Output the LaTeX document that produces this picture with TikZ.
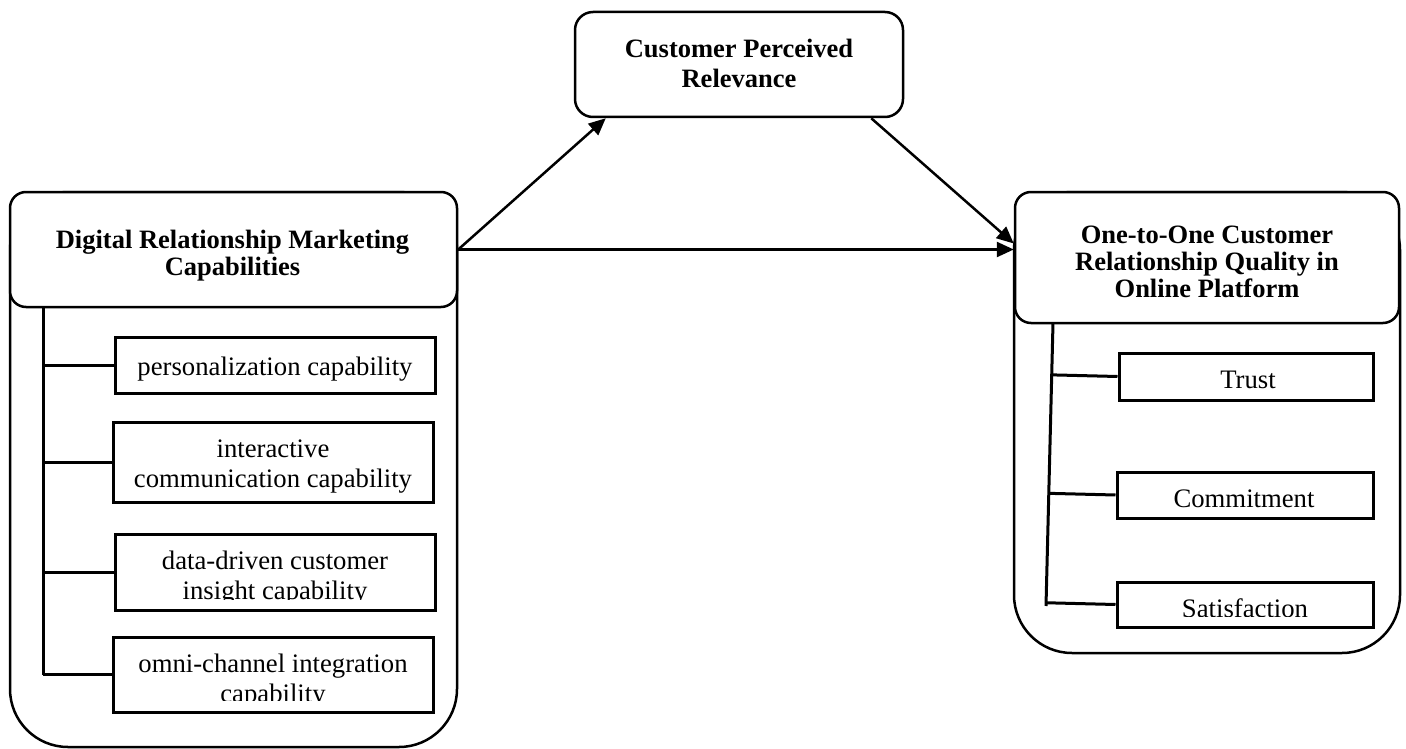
\documentclass[tikz,border=0pt]{standalone}
\usepackage{fontspec}
\setmainfont{Liberation Serif}
\usetikzlibrary{arrows.meta,calc}
\tikzset{
  frame/.style={draw, line width=2.5pt, rounded corners=58pt, inner sep=0pt},
  header/.style={draw, fill=white, line width=2.5pt, rounded corners=16pt, inner sep=0pt},
  itembox/.style={draw, line width=3pt, inner sep=0pt},
  headtext/.style={font=\fontsize{26.5pt}{27pt}\selectfont\bfseries, align=center, inner sep=0pt, anchor=base},
  itemtext/.style={font=\fontsize{26.7pt}{30pt}\selectfont, align=center, inner sep=0pt, anchor=base},
  bus/.style={line width=3pt},
  link/.style={line width=2.5pt, -{Triangle[length=17pt,width=15pt]}},
}
\begin{document}
\begin{tikzpicture}[x=1pt, y=-1pt]
\useasboundingbox (0,0) rectangle (1406,749);

% ---- left construct: frame, header and its four capabilities
% (multi-line text nodes are placed by the baseline of their last line)
\node[frame, minimum width=447pt, minimum height=555pt] (drm-frame) at (233.5,469.5) {};
\node[header, minimum width=447pt, minimum height=115pt] (drm) at (233.5,249.5) {};
\node[headtext] (drm-t) at (232.5,275) {Digital Relationship Marketing\\Capabilities};

\node[itembox, minimum width=320pt, minimum height=56pt] (pers) at (275,365) {};
\node[itemtext] (pers-t) at (275,375) {personalization capability};

\node[itembox, minimum width=320pt, minimum height=80pt] (inter) at (273,462) {};
\node[itemtext] (inter-t) at (273,487) {interactive\\communication capability};

\node[itembox, minimum width=320pt, minimum height=76pt] (data) at (275,572) {};
\begin{scope}
  \clip (115,534) rectangle (435,599.5);
  \node[itemtext] (data-t) at (275,599) {data-driven customer\\insight capability};
\end{scope}

\node[itembox, minimum width=320pt, minimum height=75pt] (omni) at (273,674.5) {};
\begin{scope}
  \clip (113,637) rectangle (433,700);
  \node[itemtext] (omni-t) at (273,702) {omni-channel integration\\capability};
\end{scope}

\coordinate (lb-top) at (43,307);
\coordinate (lb-bot) at (43,675);
\draw[bus] (lb-top) -- (lb-bot);
\foreach \b in {pers,inter,data,omni}
  \draw[bus] (lb-top |- \b.west) -- (\b.west);

% ---- mediator
\node[header, rounded corners=18pt, minimum width=328pt, minimum height=105pt] (cpr) at (739,64.5) {};
\node[headtext, font=\fontsize{26.5pt}{30pt}\selectfont\bfseries] (cpr-t) at (739,88) {Customer Perceived\\Relevance};

% ---- right construct: frame, header and its three dimensions
\node[frame, minimum width=386pt, minimum height=461pt] (rq-frame) at (1207,422.5) {};
\node[header, minimum width=384pt, minimum height=131pt] (rq) at (1207,257.5) {};
\node[headtext] (rq-t) at (1207,297) {One-to-One Customer\\Relationship Quality in\\Online Platform};

\node[itembox, minimum width=254pt, minimum height=47pt] (trust) at (1246,376.5) {};
\node[itemtext] (trust-t) at (1248,388) {Trust};

\node[itembox, minimum width=256pt, minimum height=46pt] (commit) at (1245,495) {};
\begin{scope}
  \clip (1117,472) rectangle (1373,508);
  \node[itemtext] (commit-t) at (1244,507) {Commitment};
\end{scope}

\node[itembox, minimum width=256pt, minimum height=45pt] (satis) at (1245,604.5) {};
\begin{scope}
  \clip (1117,582) rectangle (1373,616.5);
  \node[itemtext] (satis-t) at (1245,617) {Satisfaction};
\end{scope}

\coordinate (rb-top) at (1053,323);
\coordinate (rb-bot) at (1046,606);
\draw[bus] (rb-top) -- (rb-bot);
\foreach \b in {trust,commit,satis}
  \draw[bus] ($(rb-top)!(\b.west)!(rb-bot)$) -- (\b.west);

% ---- paths between constructs
\draw[link] (drm.east) -- ([xshift=32pt]cpr.south west);
\draw[link] ([xshift=-33pt]cpr.south east) -- ([yshift=14pt]rq.west);
\draw[link] (drm.east) -- (drm.east -| rq.west);
\end{tikzpicture}
\end{document}
